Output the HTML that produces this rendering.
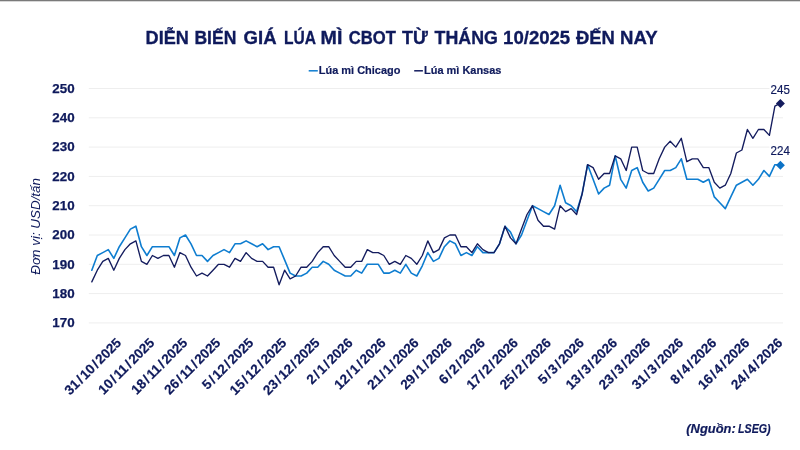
<!DOCTYPE html>
<html lang="vi"><head><meta charset="utf-8"><title>Diễn biến giá lúa mì CBOT</title>
<style>html,body{margin:0;padding:0;background:#fff}body{width:800px;height:450px;overflow:hidden}svg{display:block}text{font-family:"Liberation Sans",sans-serif}</style></head><body>
<svg width="800" height="450" viewBox="0 0 800 450">
<rect x="0" y="0" width="800" height="450" fill="#ffffff"/>
<rect x="0" y="0" width="800" height="1.3" fill="#7a7a7a"/>
<line x1="88.8" x2="783" y1="322.9" y2="322.9" stroke="#eeeeee" stroke-width="1"/>
<line x1="88.8" x2="783" y1="293.6" y2="293.6" stroke="#eeeeee" stroke-width="1"/>
<line x1="88.8" x2="783" y1="264.3" y2="264.3" stroke="#eeeeee" stroke-width="1"/>
<line x1="88.8" x2="783" y1="235.0" y2="235.0" stroke="#eeeeee" stroke-width="1"/>
<line x1="88.8" x2="783" y1="205.7" y2="205.7" stroke="#eeeeee" stroke-width="1"/>
<line x1="88.8" x2="783" y1="176.4" y2="176.4" stroke="#eeeeee" stroke-width="1"/>
<line x1="88.8" x2="783" y1="147.1" y2="147.1" stroke="#eeeeee" stroke-width="1"/>
<line x1="88.8" x2="783" y1="117.8" y2="117.8" stroke="#eeeeee" stroke-width="1"/>
<line x1="88.8" x2="783" y1="88.5" y2="88.5" stroke="#eeeeee" stroke-width="1"/>
<text y="44.3" font-size="19.2" font-weight="bold" fill="#0f1a5c" stroke="#0f1a5c" stroke-width="0.35"><tspan x="145.60" textLength="43.20" lengthAdjust="spacingAndGlyphs">DIỄN</tspan> <tspan x="194.40" textLength="41.90" lengthAdjust="spacingAndGlyphs">BIẾN</tspan> <tspan x="243.60" textLength="33.00" lengthAdjust="spacingAndGlyphs">GIÁ</tspan> <tspan x="283.90" textLength="31.40" lengthAdjust="spacingAndGlyphs">LÚA</tspan> <tspan x="320.60" textLength="21.80" lengthAdjust="spacingAndGlyphs">MÌ</tspan> <tspan x="348.70" textLength="47.10" lengthAdjust="spacingAndGlyphs">CBOT</tspan> <tspan x="402.10" textLength="25.80" lengthAdjust="spacingAndGlyphs">TỪ</tspan> <tspan x="434.60" textLength="63.20" lengthAdjust="spacingAndGlyphs">THÁNG</tspan> <tspan x="503.10" textLength="67.10" lengthAdjust="spacingAndGlyphs">10/2025</tspan> <tspan x="576.00" textLength="38.90" lengthAdjust="spacingAndGlyphs">ĐẾN</tspan> <tspan x="620.10" textLength="37.50" lengthAdjust="spacingAndGlyphs">NAY</tspan></text>
<line x1="308.7" x2="317.8" y1="70.8" y2="70.8" stroke="#0e7dd0" stroke-width="1.5"/>
<text x="318.8" y="74.4" font-size="11.8" font-weight="bold" fill="#0f1a5c" stroke="#0f1a5c" stroke-width="0.2" textLength="81.6" lengthAdjust="spacingAndGlyphs">Lúa mì Chicago</text>
<line x1="414.2" x2="422.9" y1="70.8" y2="70.8" stroke="#141c5e" stroke-width="1.5"/>
<text x="424" y="74.4" font-size="11.8" font-weight="bold" fill="#0f1a5c" stroke="#0f1a5c" stroke-width="0.2" textLength="77.4" lengthAdjust="spacingAndGlyphs">Lúa mì Kansas</text>
<text x="74.6" y="327.2" font-size="13" font-weight="bold" fill="#0f1a5c" stroke="#0f1a5c" stroke-width="0.25" text-anchor="end" textLength="22.3" lengthAdjust="spacingAndGlyphs">170</text>
<text x="74.6" y="297.9" font-size="13" font-weight="bold" fill="#0f1a5c" stroke="#0f1a5c" stroke-width="0.25" text-anchor="end" textLength="22.3" lengthAdjust="spacingAndGlyphs">180</text>
<text x="74.6" y="268.6" font-size="13" font-weight="bold" fill="#0f1a5c" stroke="#0f1a5c" stroke-width="0.25" text-anchor="end" textLength="22.3" lengthAdjust="spacingAndGlyphs">190</text>
<text x="74.6" y="239.3" font-size="13" font-weight="bold" fill="#0f1a5c" stroke="#0f1a5c" stroke-width="0.25" text-anchor="end" textLength="22.3" lengthAdjust="spacingAndGlyphs">200</text>
<text x="74.6" y="210.0" font-size="13" font-weight="bold" fill="#0f1a5c" stroke="#0f1a5c" stroke-width="0.25" text-anchor="end" textLength="22.3" lengthAdjust="spacingAndGlyphs">210</text>
<text x="74.6" y="180.7" font-size="13" font-weight="bold" fill="#0f1a5c" stroke="#0f1a5c" stroke-width="0.25" text-anchor="end" textLength="22.3" lengthAdjust="spacingAndGlyphs">220</text>
<text x="74.6" y="151.4" font-size="13" font-weight="bold" fill="#0f1a5c" stroke="#0f1a5c" stroke-width="0.25" text-anchor="end" textLength="22.3" lengthAdjust="spacingAndGlyphs">230</text>
<text x="74.6" y="122.1" font-size="13" font-weight="bold" fill="#0f1a5c" stroke="#0f1a5c" stroke-width="0.25" text-anchor="end" textLength="22.3" lengthAdjust="spacingAndGlyphs">240</text>
<text x="74.6" y="92.8" font-size="13" font-weight="bold" fill="#0f1a5c" stroke="#0f1a5c" stroke-width="0.25" text-anchor="end" textLength="22.3" lengthAdjust="spacingAndGlyphs">250</text>
<text transform="translate(40.4,274.7) rotate(-90)" font-size="12.4" font-style="italic" fill="#0f1a5c" textLength="96.7" lengthAdjust="spacingAndGlyphs">Đơn vị: USD/tấn</text>
<text transform="translate(122.1,343.6) rotate(-45)" font-size="13.5" font-weight="bold" fill="#0f1a5c" stroke="#0f1a5c" stroke-width="0.2" text-anchor="end">31<tspan dx="1.5" letter-spacing="1.5">/</tspan>10<tspan dx="1.5" letter-spacing="1.5">/</tspan>2025</text>
<text transform="translate(155.2,343.6) rotate(-45)" font-size="13.5" font-weight="bold" fill="#0f1a5c" stroke="#0f1a5c" stroke-width="0.2" text-anchor="end">10<tspan dx="1.5" letter-spacing="1.5">/</tspan>11<tspan dx="1.5" letter-spacing="1.5">/</tspan>2025</text>
<text transform="translate(188.2,343.6) rotate(-45)" font-size="13.5" font-weight="bold" fill="#0f1a5c" stroke="#0f1a5c" stroke-width="0.2" text-anchor="end">18<tspan dx="1.5" letter-spacing="1.5">/</tspan>11<tspan dx="1.5" letter-spacing="1.5">/</tspan>2025</text>
<text transform="translate(221.3,343.6) rotate(-45)" font-size="13.5" font-weight="bold" fill="#0f1a5c" stroke="#0f1a5c" stroke-width="0.2" text-anchor="end">26<tspan dx="1.5" letter-spacing="1.5">/</tspan>11<tspan dx="1.5" letter-spacing="1.5">/</tspan>2025</text>
<text transform="translate(254.3,343.6) rotate(-45)" font-size="13.5" font-weight="bold" fill="#0f1a5c" stroke="#0f1a5c" stroke-width="0.2" text-anchor="end">5<tspan dx="1.5" letter-spacing="1.5">/</tspan>12<tspan dx="1.5" letter-spacing="1.5">/</tspan>2025</text>
<text transform="translate(287.4,343.6) rotate(-45)" font-size="13.5" font-weight="bold" fill="#0f1a5c" stroke="#0f1a5c" stroke-width="0.2" text-anchor="end">15<tspan dx="1.5" letter-spacing="1.5">/</tspan>12<tspan dx="1.5" letter-spacing="1.5">/</tspan>2025</text>
<text transform="translate(320.5,343.6) rotate(-45)" font-size="13.5" font-weight="bold" fill="#0f1a5c" stroke="#0f1a5c" stroke-width="0.2" text-anchor="end">23<tspan dx="1.5" letter-spacing="1.5">/</tspan>12<tspan dx="1.5" letter-spacing="1.5">/</tspan>2025</text>
<text transform="translate(353.5,343.6) rotate(-45)" font-size="13.5" font-weight="bold" fill="#0f1a5c" stroke="#0f1a5c" stroke-width="0.2" text-anchor="end">2<tspan dx="1.5" letter-spacing="1.5">/</tspan>1<tspan dx="1.5" letter-spacing="1.5">/</tspan>2026</text>
<text transform="translate(386.6,343.6) rotate(-45)" font-size="13.5" font-weight="bold" fill="#0f1a5c" stroke="#0f1a5c" stroke-width="0.2" text-anchor="end">12<tspan dx="1.5" letter-spacing="1.5">/</tspan>1<tspan dx="1.5" letter-spacing="1.5">/</tspan>2026</text>
<text transform="translate(419.6,343.6) rotate(-45)" font-size="13.5" font-weight="bold" fill="#0f1a5c" stroke="#0f1a5c" stroke-width="0.2" text-anchor="end">21<tspan dx="1.5" letter-spacing="1.5">/</tspan>1<tspan dx="1.5" letter-spacing="1.5">/</tspan>2026</text>
<text transform="translate(452.7,343.6) rotate(-45)" font-size="13.5" font-weight="bold" fill="#0f1a5c" stroke="#0f1a5c" stroke-width="0.2" text-anchor="end">29<tspan dx="1.5" letter-spacing="1.5">/</tspan>1<tspan dx="1.5" letter-spacing="1.5">/</tspan>2026</text>
<text transform="translate(485.8,343.6) rotate(-45)" font-size="13.5" font-weight="bold" fill="#0f1a5c" stroke="#0f1a5c" stroke-width="0.2" text-anchor="end">6<tspan dx="1.5" letter-spacing="1.5">/</tspan>2<tspan dx="1.5" letter-spacing="1.5">/</tspan>2026</text>
<text transform="translate(518.8,343.6) rotate(-45)" font-size="13.5" font-weight="bold" fill="#0f1a5c" stroke="#0f1a5c" stroke-width="0.2" text-anchor="end">17<tspan dx="1.5" letter-spacing="1.5">/</tspan>2<tspan dx="1.5" letter-spacing="1.5">/</tspan>2026</text>
<text transform="translate(551.9,343.6) rotate(-45)" font-size="13.5" font-weight="bold" fill="#0f1a5c" stroke="#0f1a5c" stroke-width="0.2" text-anchor="end">25<tspan dx="1.5" letter-spacing="1.5">/</tspan>2<tspan dx="1.5" letter-spacing="1.5">/</tspan>2026</text>
<text transform="translate(584.9,343.6) rotate(-45)" font-size="13.5" font-weight="bold" fill="#0f1a5c" stroke="#0f1a5c" stroke-width="0.2" text-anchor="end">5<tspan dx="1.5" letter-spacing="1.5">/</tspan>3<tspan dx="1.5" letter-spacing="1.5">/</tspan>2026</text>
<text transform="translate(618.0,343.6) rotate(-45)" font-size="13.5" font-weight="bold" fill="#0f1a5c" stroke="#0f1a5c" stroke-width="0.2" text-anchor="end">13<tspan dx="1.5" letter-spacing="1.5">/</tspan>3<tspan dx="1.5" letter-spacing="1.5">/</tspan>2026</text>
<text transform="translate(651.1,343.6) rotate(-45)" font-size="13.5" font-weight="bold" fill="#0f1a5c" stroke="#0f1a5c" stroke-width="0.2" text-anchor="end">23<tspan dx="1.5" letter-spacing="1.5">/</tspan>3<tspan dx="1.5" letter-spacing="1.5">/</tspan>2026</text>
<text transform="translate(684.1,343.6) rotate(-45)" font-size="13.5" font-weight="bold" fill="#0f1a5c" stroke="#0f1a5c" stroke-width="0.2" text-anchor="end">31<tspan dx="1.5" letter-spacing="1.5">/</tspan>3<tspan dx="1.5" letter-spacing="1.5">/</tspan>2026</text>
<text transform="translate(717.2,343.6) rotate(-45)" font-size="13.5" font-weight="bold" fill="#0f1a5c" stroke="#0f1a5c" stroke-width="0.2" text-anchor="end">8<tspan dx="1.5" letter-spacing="1.5">/</tspan>4<tspan dx="1.5" letter-spacing="1.5">/</tspan>2026</text>
<text transform="translate(750.2,343.6) rotate(-45)" font-size="13.5" font-weight="bold" fill="#0f1a5c" stroke="#0f1a5c" stroke-width="0.2" text-anchor="end">16<tspan dx="1.5" letter-spacing="1.5">/</tspan>4<tspan dx="1.5" letter-spacing="1.5">/</tspan>2026</text>
<text transform="translate(783.3,343.6) rotate(-45)" font-size="13.5" font-weight="bold" fill="#0f1a5c" stroke="#0f1a5c" stroke-width="0.2" text-anchor="end">24<tspan dx="1.5" letter-spacing="1.5">/</tspan>4<tspan dx="1.5" letter-spacing="1.5">/</tspan>2026</text>
<polyline fill="none" stroke="#0e7dd0" stroke-width="1.6" stroke-linejoin="round" stroke-linecap="round" points="91.8,270.2 97.3,255.5 102.8,252.6 108.3,249.6 113.8,258.4 119.3,246.7 124.9,237.9 130.4,229.1 135.9,226.2 141.4,246.7 146.9,255.5 152.4,246.7 157.9,246.7 163.4,246.7 168.9,246.7 174.4,255.5 179.9,237.9 185.5,235.0 191.0,243.8 196.5,255.5 202.0,255.5 207.5,261.4 213.0,255.5 218.5,252.6 224.0,249.6 229.5,252.6 235.0,243.8 240.5,243.8 246.1,240.9 251.6,243.8 257.1,246.7 262.6,243.8 268.1,249.6 273.6,246.7 279.1,246.7 284.6,259.9 290.1,273.1 295.6,276.0 301.1,276.0 306.7,273.1 312.2,267.2 317.7,267.2 323.2,261.4 328.7,264.3 334.2,270.2 339.7,273.1 345.2,276.0 350.7,276.0 356.2,270.2 361.7,273.1 367.3,264.3 372.8,264.3 378.3,264.3 383.8,273.1 389.3,273.1 394.8,270.2 400.3,273.1 405.8,264.3 411.3,273.1 416.8,276.0 422.3,265.8 427.8,252.6 433.4,261.4 438.9,258.4 444.4,246.7 449.9,240.9 455.4,243.8 460.9,255.5 466.4,252.6 471.9,255.5 477.4,246.7 482.9,252.6 488.4,252.6 494.0,252.6 499.5,243.8 505.0,226.2 510.5,232.1 516.0,243.8 521.5,235.0 527.0,220.3 532.5,205.7 538.0,208.6 543.5,211.6 549.0,214.5 554.6,205.7 560.1,185.2 565.6,202.8 571.1,205.7 576.6,211.6 582.1,194.0 587.6,164.7 593.1,179.3 598.6,194.0 604.1,188.1 609.6,185.2 615.2,155.9 620.7,179.3 626.2,188.1 631.7,170.5 637.2,167.6 642.7,182.3 648.2,191.0 653.7,188.1 659.2,179.3 664.7,170.5 670.2,170.5 675.8,167.6 681.3,158.8 686.8,179.3 692.3,179.3 697.8,179.3 703.3,182.3 708.8,179.3 714.3,196.9 719.8,202.8 725.3,208.6 730.8,196.9 736.4,185.2 741.9,182.3 747.4,179.3 752.9,185.2 758.4,179.3 763.9,170.5 769.4,176.4 774.9,164.7 780.4,164.7"/>
<polyline fill="none" stroke="#141c5e" stroke-width="1.35" stroke-linejoin="round" stroke-linecap="round" points="91.8,281.9 97.3,270.2 102.8,261.4 108.3,258.4 113.8,270.2 119.3,258.4 124.9,249.6 130.4,243.8 135.9,240.9 141.4,261.4 146.9,264.3 152.4,255.5 157.9,258.4 163.4,255.5 168.9,255.5 174.4,267.2 179.9,252.6 185.5,255.5 191.0,267.2 196.5,276.0 202.0,273.1 207.5,276.0 213.0,270.2 218.5,264.3 224.0,264.3 229.5,267.2 235.0,258.4 240.5,261.4 246.1,252.6 251.6,258.4 257.1,261.4 262.6,261.4 268.1,267.2 273.6,267.2 279.1,284.8 284.6,270.2 290.1,278.9 295.6,276.0 301.1,267.2 306.7,267.2 312.2,261.4 317.7,252.6 323.2,246.7 328.7,246.7 334.2,255.5 339.7,261.4 345.2,267.2 350.7,267.2 356.2,261.4 361.7,261.4 367.3,249.6 372.8,252.6 378.3,252.6 383.8,255.5 389.3,264.3 394.8,261.4 400.3,264.3 405.8,255.5 411.3,258.4 416.8,264.3 422.3,255.5 427.8,240.9 433.4,252.6 438.9,249.6 444.4,237.9 449.9,235.0 455.4,235.0 460.9,246.7 466.4,246.7 471.9,252.6 477.4,243.8 482.9,249.6 488.4,252.6 494.0,252.6 499.5,243.8 505.0,226.2 510.5,237.9 516.0,243.8 521.5,229.1 527.0,214.5 532.5,205.7 538.0,220.3 543.5,226.2 549.0,226.2 554.6,229.1 560.1,205.7 565.6,211.6 571.1,208.6 576.6,214.5 582.1,194.0 587.6,164.7 593.1,167.6 598.6,179.3 604.1,173.5 609.6,173.5 615.2,155.9 620.7,158.8 626.2,170.5 631.7,147.1 637.2,147.1 642.7,170.5 648.2,173.5 653.7,173.5 659.2,158.8 664.7,147.1 670.2,141.2 675.8,147.1 681.3,138.3 686.8,161.7 692.3,158.8 697.8,158.8 703.3,167.6 708.8,167.6 714.3,182.3 719.8,188.1 725.3,185.2 730.8,173.5 736.4,153.0 741.9,150.0 747.4,129.5 752.9,138.3 758.4,129.5 763.9,129.5 769.4,135.4 774.9,106.1 780.4,103.1"/>
<polygon points="780.4,160.8 784.9,165.3 780.4,169.7 776.0,165.3" fill="#0c72c6"/>
<polygon points="780.4,98.9 784.9,103.4 780.4,107.9 775.9,103.4" fill="#141c5e"/>
<rect x="769.5" y="83" width="21.5" height="12.5" fill="#fff"/>
<text x="770.6" y="94" font-size="12.4" fill="#0f1a5c" stroke="#0f1a5c" stroke-width="0.2" textLength="19.3" lengthAdjust="spacingAndGlyphs">245</text>
<rect x="769.5" y="144" width="21.5" height="12.5" fill="#fff"/>
<text x="770.6" y="154.9" font-size="12.4" fill="#0f1a5c" stroke="#0f1a5c" stroke-width="0.2" textLength="19.3" lengthAdjust="spacingAndGlyphs">224</text>
<text y="432.6" font-size="13" font-weight="bold" font-style="italic" fill="#0f1a5c" stroke="#0f1a5c" stroke-width="0.2"><tspan x="686.3" textLength="49.5" lengthAdjust="spacingAndGlyphs">(Nguồn:</tspan> <tspan x="738" textLength="32.6" lengthAdjust="spacingAndGlyphs">LSEG)</tspan></text>
</svg></body></html>
